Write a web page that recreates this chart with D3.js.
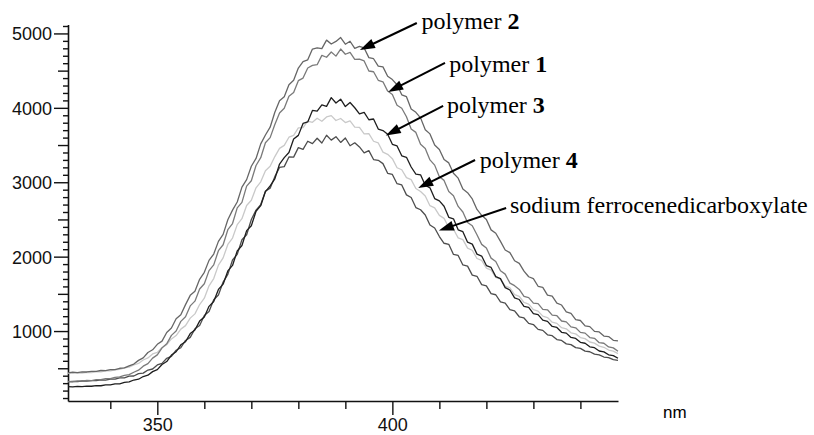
<!DOCTYPE html>
<html>
<head>
<meta charset="utf-8">
<script src="https://cdn.jsdelivr.net/npm/d3@7"></script>
<style>
  html, body { margin: 0; padding: 0; background: #fff; }
  svg { display: block; }
  .tick text { font-family: "Liberation Sans", Arial, sans-serif; font-size: 18px; fill: #111; }
  .label { font-family: "Liberation Serif", "Times New Roman", serif; font-size: 24px; fill: #000; }
</style>
</head>
<body>
<div class="chart"></div>
<script>
// wavelength grid (nm), one sample per nm
const wavelengths = d3.range(331, 449);

// emission intensity
const polymer2 = [
  438, 447, 442, 452, 450, 459, 457, 470, 468, 481,
  483, 500, 506, 533, 556, 606, 640, 712, 748, 822,
  865, 980, 1040, 1165, 1220, 1355, 1480, 1535, 1695, 1790,
  1950, 2035, 2205, 2300, 2495, 2625, 2735, 2935, 3035, 3215,
  3320, 3515, 3635, 3740, 3940, 4095, 4150, 4310, 4370, 4535,
  4620, 4645, 4790, 4805, 4795, 4910, 4858, 4893, 4945, 4855,
  4895, 4800, 4825, 4805, 4675, 4660, 4560, 4550, 4425, 4380,
  4310, 4175, 4150, 3985, 3940, 3865, 3705, 3650, 3500, 3440,
  3305, 3260, 3120, 3055, 2910, 2860, 2775, 2635, 2555, 2500,
  2360, 2315, 2205, 2090, 2055, 1945, 1910, 1805, 1730, 1705,
  1602, 1588, 1484, 1470, 1376, 1350, 1258, 1238, 1155, 1142,
  1070, 1060, 996, 988, 933, 926, 875, 868
];
const polymer1 = [
  322, 319, 329, 327, 337, 335, 347, 346, 360, 361,
  378, 383, 405, 414, 446, 474, 528, 562, 636, 680,
  774, 828, 942, 1000, 1130, 1192, 1338, 1402, 1565, 1636,
  1812, 1890, 2080, 2160, 2362, 2445, 2655, 2730, 2948, 3020,
  3225, 3330, 3530, 3600, 3775, 3930, 3995, 4155, 4205, 4365,
  4400, 4535, 4570, 4580, 4705, 4680, 4750, 4695, 4790, 4720,
  4745, 4650, 4655, 4630, 4495, 4485, 4370, 4350, 4225, 4180,
  4035, 3995, 3880, 3715, 3670, 3510, 3455, 3300, 3230, 3075,
  3025, 2875, 2820, 2675, 2600, 2460, 2415, 2295, 2165, 2115,
  1980, 1935, 1810, 1765, 1645, 1610, 1560, 1465, 1450, 1375,
  1368, 1292, 1286, 1214, 1206, 1135, 1124, 1056, 1044, 982,
  972, 913, 902, 844, 836, 786, 774, 728
];
const polymer3 = [
  252, 249, 256, 253, 261, 258, 267, 265, 276, 276,
  290, 291, 310, 316, 342, 353, 389, 407, 455, 482,
  550, 590, 678, 722, 815, 856, 966, 1014, 1134, 1190,
  1332, 1398, 1560, 1630, 1808, 1882, 2076, 2150, 2350, 2415,
  2610, 2685, 2875, 2950, 3045, 3245, 3330, 3400, 3580, 3630,
  3790, 3810, 3965, 3955, 4040, 4020, 4137, 4065, 4117, 4017,
  4072, 4001, 3920, 3940, 3840, 3850, 3715, 3695, 3645, 3510,
  3488, 3355, 3335, 3205, 3110, 3100, 2960, 2925, 2780, 2750,
  2678, 2528, 2508, 2360, 2335, 2194, 2168, 2034, 2008, 1880,
  1855, 1732, 1704, 1584, 1552, 1446, 1424, 1332, 1318, 1234,
  1220, 1146, 1130, 1062, 1048, 983, 972, 914, 901, 848,
  836, 788, 776, 732, 720, 681, 669, 634
];
const polymer4 = [
  432, 430, 438, 436, 445, 443, 453, 452, 464, 465,
  480, 485, 506, 516, 545, 565, 611, 639, 692, 714,
  778, 818, 894, 940, 1026, 1073, 1174, 1231, 1356, 1442,
  1608, 1706, 1886, 1984, 2164, 2250, 2430, 2510, 2688, 2758,
  2925, 3005, 3155, 3215, 3345, 3455, 3495, 3605, 3630, 3730,
  3735, 3820, 3805, 3860, 3820, 3878, 3895, 3830, 3857, 3802,
  3825, 3742, 3737, 3651, 3654, 3551, 3528, 3405, 3375, 3317,
  3195, 3168, 3061, 3035, 2915, 2875, 2815, 2685, 2655, 2555,
  2514, 2392, 2368, 2252, 2228, 2114, 2086, 1975, 1950, 1846,
  1819, 1722, 1698, 1603, 1582, 1490, 1466, 1384, 1363, 1287,
  1268, 1200, 1182, 1119, 1103, 1045, 1030, 977, 962, 913,
  898, 853, 838, 797, 782, 745, 730, 696
];
const sodiumFc = [
  318, 325, 321, 329, 326, 335, 333, 344, 341, 355,
  354, 371, 371, 394, 396, 427, 435, 476, 490, 544,
  566, 634, 660, 742, 776, 874, 915, 1030, 1075, 1208,
  1262, 1420, 1485, 1658, 1762, 1955, 2030, 2228, 2295, 2500,
  2625, 2700, 2880, 2920, 3075, 3200, 3210, 3340, 3338, 3465,
  3442, 3551, 3519, 3591, 3527, 3632, 3566, 3612, 3535, 3595,
  3490, 3530, 3475, 3395, 3425, 3305, 3295, 3250, 3120, 3105,
  2980, 2963, 2830, 2795, 2660, 2630, 2560, 2425, 2385, 2270,
  2180, 2166, 2030, 2016, 1888, 1872, 1752, 1736, 1624, 1608,
  1503, 1488, 1392, 1376, 1288, 1272, 1192, 1176, 1103, 1088,
  1022, 1009, 950, 938, 885, 874, 828, 818, 777, 768,
  731, 722, 689, 680, 651, 643, 615, 607
];

// tick labels
const xLabels = [350, 400];
const yLabels = [1000, 2000, 3000, 4000, 5000];

// annotation anchors in data units: [label nm, label value, tail nm, tail value, tip nm, tip value]
const labelNames = ["polymer ", "polymer ", "polymer ", "polymer ", "sodium ferrocenedicarboxylate"];
const labelNumbers = ["2", "1", "3", "4", ""];
const labelPos = [
  [406.2, 5060, 405.2, 5140, 393.1, 4777],
  [412.1, 4475, 411.2, 4603, 399.1, 4213],
  [411.6, 3931, 410.8, 4025, 398.6, 3628],
  [418.6, 3185, 417.6, 3299, 405.5, 2923],
  [425.0, 2580, 424.2, 2654, 409.9, 2351]
];

const width = 814;
const height = 435;

const series = [
  { values: polymer4, color: "#c9c9c9" },
  { values: sodiumFc, color: "#4d4d4d" },
  { values: polymer3, color: "#1e1e1e" },
  { values: polymer1, color: "#7a7a7a" },
  { values: polymer2, color: "#666666" }
];

const svg = d3.select(".chart").append("svg").attr("width", width).attr("height", height);

const x = d3.scaleLinear().domain([331, 448]).range([68, 618]);
const y = d3.scaleLinear().domain([60, 5120]).range([401, 24.5]);

// y axis
const yAxis = svg.append("g")
  .attr("transform", "translate(68,0)")
  .call(d3.axisLeft(y)
    .tickValues(d3.range(100, 5101, 100))
    .tickSize(5)
    .tickSizeOuter(0)
    .tickPadding(2)
    .tickFormat((d) => (yLabels.includes(d) ? d : "")));
yAxis.selectAll(".tick line")
  .attr("x2", (d) => (d % 1000 === 0 ? -14 : d % 500 === 0 ? -10 : -5));
yAxis.selectAll(".tick text").attr("x", -16).attr("dy", "0.36em");

// x axis
const xAxis = svg.append("g")
  .attr("transform", "translate(0,401)")
  .call(d3.axisBottom(x)
    .tickValues(d3.range(340, 441, 10))
    .tickSize(8)
    .tickSizeOuter(0)
    .tickFormat((d) => (xLabels.includes(d) ? d : "")));
xAxis.selectAll(".tick line").attr("y2", (d) => (xLabels.includes(d) ? 14 : 8));
xAxis.selectAll(".tick text").attr("y", 30).attr("dy", 0);

svg.selectAll(".domain").attr("stroke", "#111").attr("stroke-width", 1.6);
svg.selectAll(".tick line").attr("stroke", "#111").attr("stroke-width", 1.4);

svg.append("text")
  .attr("x", 663)
  .attr("y", 418)
  .style("font-family", "Liberation Sans, Arial, sans-serif")
  .style("font-size", "17px")
  .text("nm");

// spectra
const line = d3.line()
  .x((d, i) => x(wavelengths[i]))
  .y((d) => y(d));

svg.selectAll(".spectrum")
  .data(series)
  .enter()
  .append("path")
  .attr("class", "spectrum")
  .attr("fill", "none")
  .attr("stroke", (d) => d.color)
  .attr("stroke-width", 1.3)
  .attr("stroke-linejoin", "round")
  .attr("d", (d) => line(d.values));

// labels and arrows
const notes = svg.selectAll(".note").data(labelPos).enter().append("g").attr("class", "note");

notes.append("line")
  .attr("x1", (d) => x(d[2]))
  .attr("y1", (d) => y(d[3]))
  .attr("x2", (d) => {
    const dx = x(d[4]) - x(d[2]), dy = y(d[5]) - y(d[3]);
    const len = Math.hypot(dx, dy);
    return x(d[4]) - (dx / len) * 10;
  })
  .attr("y2", (d) => {
    const dx = x(d[4]) - x(d[2]), dy = y(d[5]) - y(d[3]);
    const len = Math.hypot(dx, dy);
    return y(d[5]) - (dy / len) * 10;
  })
  .attr("stroke", "#000")
  .attr("stroke-width", 2);

notes.append("path")
  .attr("fill", "#000")
  .attr("d", (d) => {
    const tx = x(d[4]), ty = y(d[5]);
    const dx = tx - x(d[2]), dy = ty - y(d[3]);
    const len = Math.hypot(dx, dy);
    const ux = dx / len, uy = dy / len;
    const bx = tx - ux * 15, by = ty - uy * 15;
    return `M${tx},${ty}L${bx - uy * 5},${by + ux * 5}L${bx + uy * 5},${by - ux * 5}Z`;
  });

const labels = notes.append("text")
  .attr("class", "label")
  .attr("x", (d) => x(d[0]))
  .attr("y", (d) => y(d[1]));
labels.append("tspan").text((d, i) => labelNames[i]);
labels.append("tspan").attr("font-weight", "bold").text((d, i) => labelNumbers[i]);
</script>
</body>
</html>
